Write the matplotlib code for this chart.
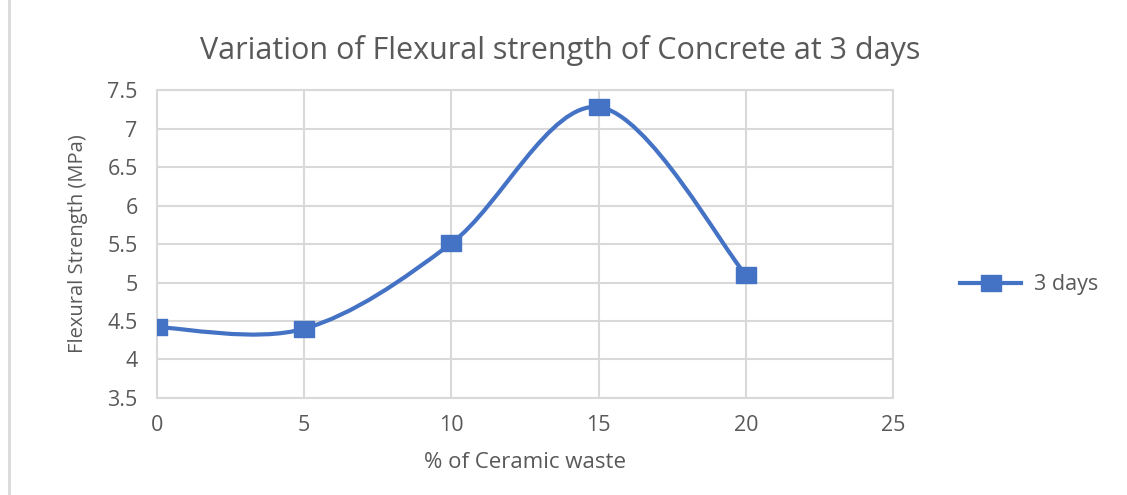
import matplotlib.pyplot as plt
import numpy as np
from matplotlib.path import Path
from matplotlib.patches import PathPatch
from matplotlib.lines import Line2D

plt.rcParams['font.family'] = ['Open Sans', 'DejaVu Sans']

waste = [0, 5, 10, 15, 20]
strength = [4.42, 4.40, 5.51, 7.28, 5.10]
xticks = [0, 5, 10, 15, 20, 25]
yticks = [3.5, 4, 4.5, 5, 5.5, 6, 6.5, 7, 7.5]
ytick_labels = ['3.5', '4', '4.5', '5', '5.5', '6', '6.5', '7', '7.5']

blue = '#4472C4'
grey_txt = '#595959'
grid_c = '#D9D9D9'

# excel style smoothed line -> cubic bezier through the points
def smooth_path(x, y):
	p = np.column_stack([x, y]).astype(float)
	n = len(p)
	verts = [p[0]]
	codes = [Path.MOVETO]
	for i in range(n - 1):
		prev = p[i - 1] if i > 0 else p[i]
		nxt = p[i + 2] if i + 2 < n else p[i + 1]
		c1 = p[i] + (p[i + 1] - prev) / 6
		c2 = p[i + 1] - (nxt - p[i]) / 6
		verts += [c1, c2, p[i + 1]]
		codes += [Path.CURVE4] * 3
	return Path(verts, codes)

fig = plt.figure(figsize=(11.27, 4.95), dpi=100)
ax = fig.add_axes([0.1393, 0.196, 0.6531, 0.622])

ax.add_patch(PathPatch(smooth_path(waste, strength), fc='none', ec=blue, lw=3, zorder=3, capstyle='round'))
rect = [(-1.3, -1), (1.3, -1), (1.3, 1), (-1.3, 1), (-1.3, -1)]
ax.plot(waste, strength, ls='none', marker=rect, ms=15, color=blue, zorder=4)

ax.set_xlim(0, 25)
ax.set_ylim(3.5, 7.5)
ax.set_xticks(xticks)
ax.set_yticks(yticks)
ax.set_yticklabels(ytick_labels)
ax.grid(True, color=grid_c, lw=1.5)
for s in ax.spines.values():
	s.set_color(grid_c)
	s.set_linewidth(1.5)
ax.tick_params(length=0, labelsize=15.5, labelcolor=grey_txt)
ax.tick_params(axis='x', pad=12)
ax.tick_params(axis='y', pad=14)

ax.set_xlabel('% of Ceramic waste', fontsize=16, color=grey_txt, labelpad=12)
ax.set_ylabel('Flexural Strength (MPa)', fontsize=14.5, color=grey_txt, labelpad=14)
fig.text(0.497, 0.898, 'Variation of Flexural strength of Concrete at 3 days', fontsize=22,
	color=grey_txt, ha='center', va='center')

h = Line2D([], [], color=blue, lw=3, marker=rect, ms=15)
fig.legend([h], ['3 days'], loc='center left', bbox_to_anchor=(0.835, 0.425), frameon=False,
	fontsize=15.5, labelcolor=grey_txt, handlelength=2.8, handletextpad=0.6)

fig.add_artist(Line2D([0.008, 0.008], [0, 1], color='#D9D9D9', lw=2))

fig.savefig('out.png')
